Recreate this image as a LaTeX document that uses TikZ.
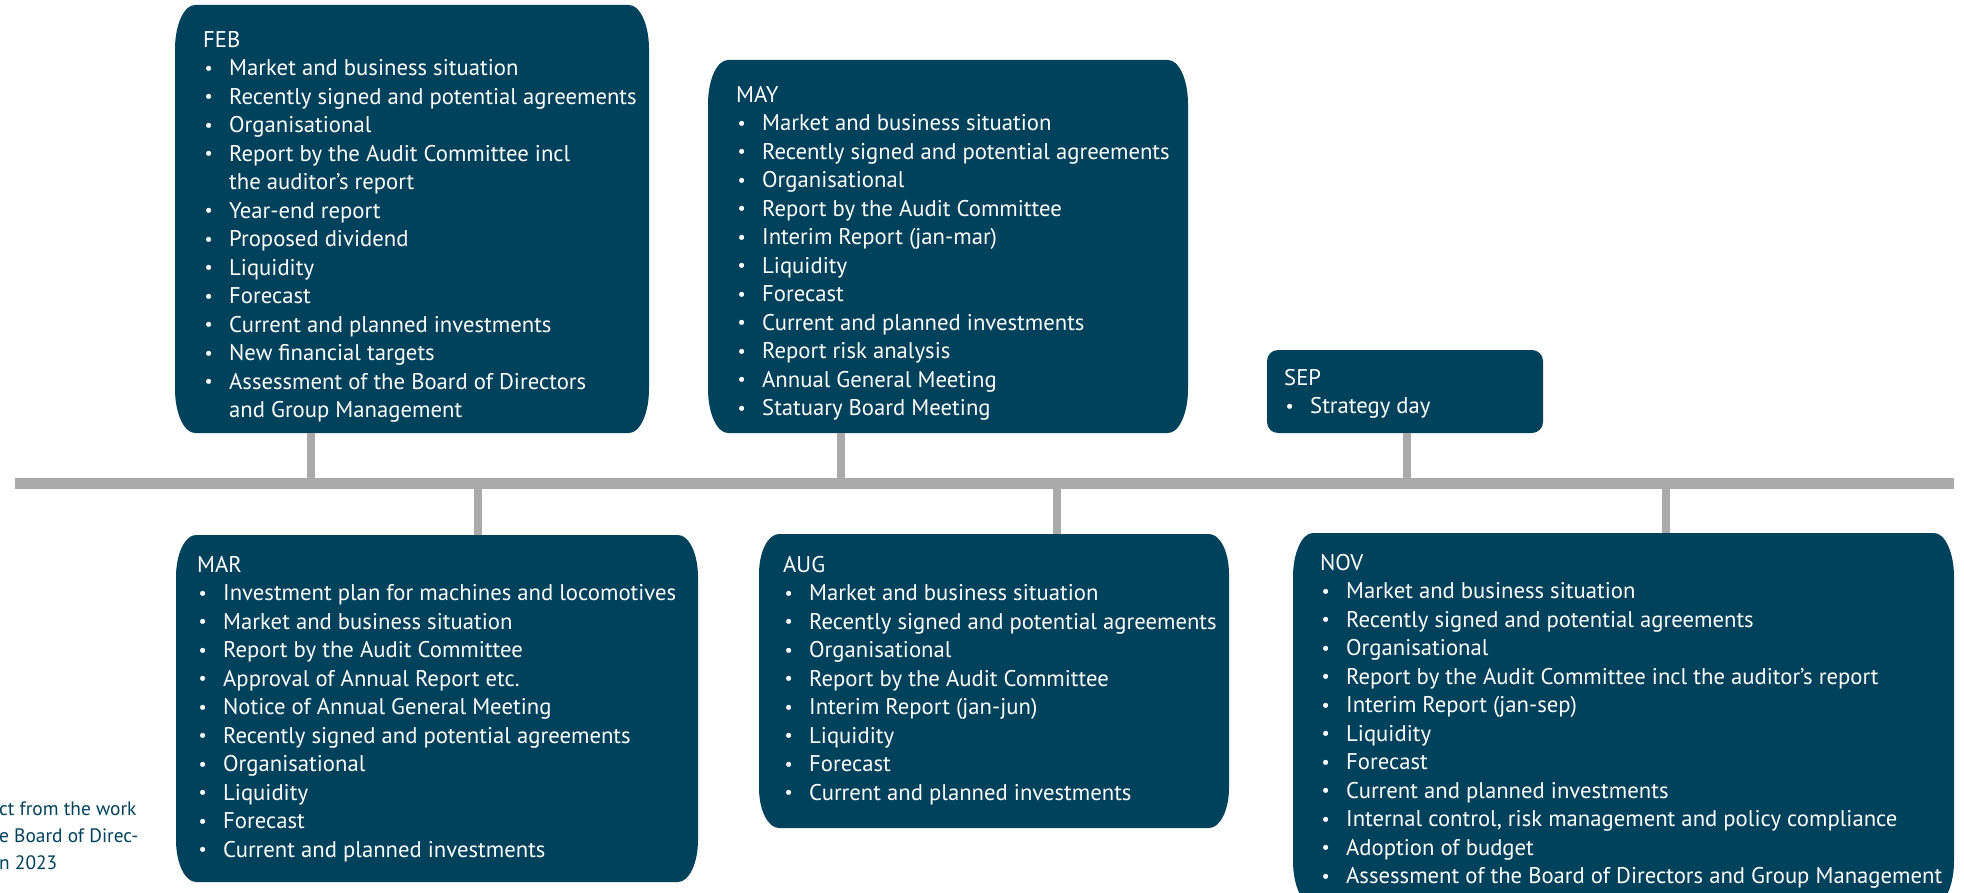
\documentclass[tikz,border=0pt]{standalone}
\usepackage{fontspec}
\setmainfont{PT Sans}
\definecolor{boxc}{RGB}{0,65,91}
\definecolor{linec}{RGB}{170,170,170}
\newcommand\bitem[1]{\makebox[26pt][l]{\hspace{1.5pt}\raisebox{1.6pt}{\scalebox{0.8}{•}}}#1}
\newcommand\bcont[1]{\hspace*{26pt}#1}
\newcommand\bhead[1]{\strut#1}
% \ebox{name}{x1}{y1}{x2}{y2}{rx}{ry}
\newcommand\ebox[7]{%
  \node[boxarea, minimum width={#4-#2}, minimum height={#5-#3}] (#1) at (#2,-#3) {};
  \fill[boxc] ([xshift=#6pt]#1.north west) -- ([xshift=-#6pt]#1.north east)
    arc[start angle=90,end angle=0,x radius=#6pt,y radius=#7pt]
    -- ([yshift=#7pt]#1.south east)
    arc[start angle=0,end angle=-90,x radius=#6pt,y radius=#7pt]
    -- ([xshift=#6pt]#1.south west)
    arc[start angle=-90,end angle=-180,x radius=#6pt,y radius=#7pt]
    -- ([yshift=-#7pt]#1.north west)
    arc[start angle=180,end angle=90,x radius=#6pt,y radius=#7pt] -- cycle;}
\begin{document}
\begin{tikzpicture}[x=1pt,y=1pt,
  boxarea/.style={inner sep=0pt, outer sep=0pt, anchor=north west},
  boxtext/.style={anchor=north west, inner sep=0pt, align=left, text=white,
    font=\fontsize{22.7}{28.5}\selectfont},
  stub/.style={draw=linec, line width=8pt},
  tline/.style={draw=linec, line width=11pt},
  note/.style={anchor=north west, inner sep=0pt, align=left, text=boxc,
    font=\fontsize{19.4}{27}\selectfont}]
\useasboundingbox (0,0) rectangle (1964,-893);
\clip (0,0) rectangle (1964,-893);
% timeline
\coordinate (tl-w) at (15,-483.5);
\coordinate (tl-e) at (1954,-483.5);
\draw[tline] (tl-w) -- (tl-e);
% boxes
\ebox{feb}{175}{5}{649}{433}{20}{44}
\ebox{may}{708}{60}{1188}{433}{20}{44}
\ebox{sep}{1267}{350}{1543}{433}{11}{11}
\ebox{mar}{176}{535}{698}{882}{20}{42}
\ebox{aug}{759}{534}{1229}{828}{20}{40}
\ebox{nov}{1293}{533}{1954}{905}{20}{44}
% stubs
\coordinate (s-feb) at (311,-483.5);
\coordinate (s-may) at (841,-483.5);
\coordinate (s-sep) at (1406.5,-483.5);
\coordinate (s-mar) at (477.5,-483.5);
\coordinate (s-aug) at (1057,-483.5);
\coordinate (s-nov) at (1666,-483.5);
\draw[stub] (s-feb |- feb.south) -- (s-feb);
\draw[stub] (s-may |- may.south) -- (s-may);
\draw[stub] (s-sep |- sep.south) -- (s-sep);
\draw[stub] (s-mar) -- (s-mar |- mar.north);
\draw[stub] (s-aug) -- (s-aug |- aug.north);
\draw[stub] (s-nov) -- (s-nov |- nov.north);
% texts
\node[boxtext] (feb-t) at (203,-27.05) {\bhead{FEB}\\
\bitem{Market and business situation}\\
\bitem{Recently signed and potential agreements}\\
\bitem{Organisational}\\
\bitem{Report by the Audit Committee incl}\\
\bcont{the auditor’s report}\\
\bitem{Year-end report}\\
\bitem{Proposed dividend}\\
\bitem{Liquidity}\\
\bitem{Forecast}\\
\bitem{Current and planned investments}\\
\bitem{New financial targets}\\
\bitem{Assessment of the Board of Directors}\\
\bcont{and Group Management}};
\node[boxtext] (may-t) at (736,-82.05) {\bhead{MAY}\\
\bitem{Market and business situation}\\
\bitem{Recently signed and potential agreements}\\
\bitem{Organisational}\\
\bitem{Report by the Audit Committee}\\
\bitem{Interim Report (jan-mar)}\\
\bitem{Liquidity}\\
\bitem{Forecast}\\
\bitem{Current and planned investments}\\
\bitem{Report risk analysis}\\
\bitem{Annual General Meeting}\\
\bitem{Statuary Board Meeting}};
\node[boxtext] (sep-t) at (1284,-365.05) {\bhead{SEP}\\
\bitem{Strategy day}};
\node[boxtext] (mar-t) at (197,-552.05) {\bhead{MAR}\\
\bitem{Investment plan for machines and locomotives}\\
\bitem{Market and business situation}\\
\bitem{Report by the Audit Committee}\\
\bitem{Approval of Annual Report etc.}\\
\bitem{Notice of Annual General Meeting}\\
\bitem{Recently signed and potential agreements}\\
\bitem{Organisational}\\
\bitem{Liquidity}\\
\bitem{Forecast}\\
\bitem{Current and planned investments}};
\node[boxtext] (aug-t) at (783,-552.05) {\bhead{AUG}\\
\bitem{Market and business situation}\\
\bitem{Recently signed and potential agreements}\\
\bitem{Organisational}\\
\bitem{Report by the Audit Committee}\\
\bitem{Interim Report (jan-jun)}\\
\bitem{Liquidity}\\
\bitem{Forecast}\\
\bitem{Current and planned investments}};
\node[boxtext] (nov-t) at (1320,-550.05) {\bhead{NOV}\\
\bitem{Market and business situation}\\
\bitem{Recently signed and potential agreements}\\
\bitem{Organisational}\\
\bitem{Report by the Audit Committee incl the auditor’s report}\\
\bitem{Interim Report (jan-sep)}\\
\bitem{Liquidity}\\
\bitem{Forecast}\\
\bitem{Current and planned investments}\\
\bitem{Internal control, risk management and policy compliance}\\
\bitem{Adoption of budget}\\
\bitem{Assessment of the Board of Directors and Group Management}};
% side note
\node[note] (side-note) at (-1,-796.1) {\strut ct from the work\\e Board of Direc-\\n 2023};
\end{tikzpicture}
\end{document}
